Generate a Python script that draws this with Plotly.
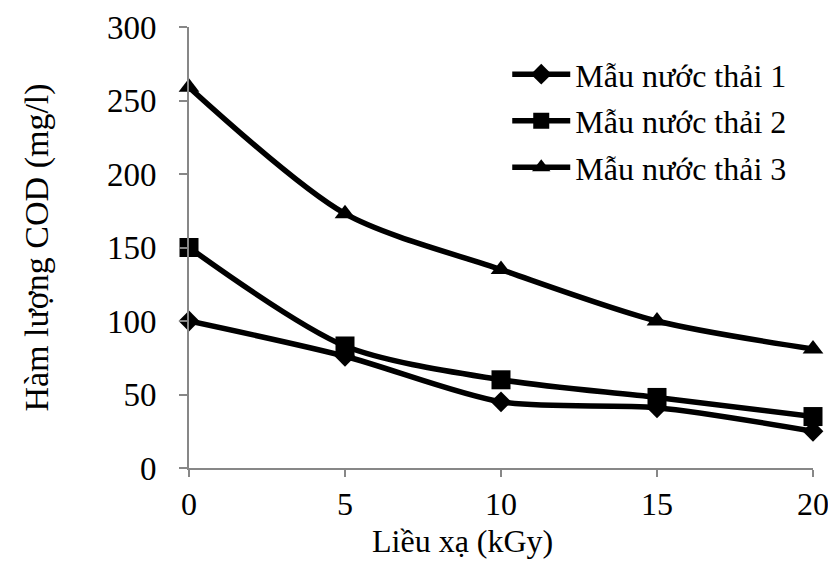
import plotly.graph_objects as go

# Irradiation dose (kGy)
dose = [0, 5, 10, 15, 20]

# COD content (mg/l) for each wastewater sample
cod_sample_1 = [100, 76, 45, 41, 25]
cod_sample_2 = [150, 83, 60, 48, 35]
cod_sample_3 = [259, 173, 135, 100, 81]

series_names = ["Mẫu nước thải 1", "Mẫu nước thải 2", "Mẫu nước thải 3"]
y_ticks = [0, 50, 100, 150, 200, 250, 300]

FONT = "Liberation Serif"
AXIS_GREY = "#878787"

fig = go.Figure()
for i, (name, values, symbol, size) in enumerate([
    (series_names[0], cod_sample_1, "diamond", 16),
    (series_names[1], cod_sample_2, "square", 19),
    (series_names[2], cod_sample_3, "triangle-up", 18),
]):
    fig.add_trace(go.Scatter(
        x=dose, y=values, name=name, mode="lines+markers",
        legendgroup=f"g{i}",
        line=dict(color="black", width=5.5, shape="spline", smoothing=0.8),
        marker=dict(symbol=symbol, size=size, color="black"),
        cliponaxis=False,
    ))

# x-axis title drawn as an annotation so it can sit left of centre
fig.add_annotation(
    text="Liều xạ (kGy)", xref="paper", yref="paper",
    x=0.4375, y=-0.166, xanchor="center", yanchor="middle",
    showarrow=False, font=dict(family=FONT, size=32, color="black"),
)

fig.update_layout(
    width=828, height=561,
    margin=dict(l=189, r=15, t=27, b=93, autoexpand=False),
    paper_bgcolor="white", plot_bgcolor="white",
    font=dict(family=FONT, size=32, color="black"),
    showlegend=True,
    legend=dict(
        x=0.51, y=0.955, xanchor="left", yanchor="top",
        font=dict(family=FONT, size=32, color="black"),
        itemwidth=58, tracegroupgap=2, traceorder="grouped",
        bgcolor="rgba(0,0,0,0)",
    ),
    xaxis=dict(
        range=[0, 20], tickvals=dose, ticktext=[str(d) for d in dose],
        tickfont=dict(family=FONT, size=32, color="black"),
        ticklabeloverflow="allow", ticklabelstandoff=0, automargin=False,
        showgrid=False, zeroline=False,
        showline=True, linecolor=AXIS_GREY, linewidth=2,
        ticks="outside", ticklen=7, tickcolor=AXIS_GREY, tickwidth=2,
    ),
    yaxis=dict(
        range=[0, 300], tickvals=y_ticks,
        tickfont=dict(family=FONT, size=33, color="black"),
        ticklabelstandoff=16, automargin=False,
        showgrid=False, zeroline=False,
        showline=True, linecolor=AXIS_GREY, linewidth=2,
        ticks="outside", ticklen=8, tickcolor=AXIS_GREY, tickwidth=2,
        title=dict(text="Hàm lượng COD (mg/l)", standoff=48,
                   font=dict(family=FONT, size=34, color="black")),
    ),
)

fig.write_html("out.html")
